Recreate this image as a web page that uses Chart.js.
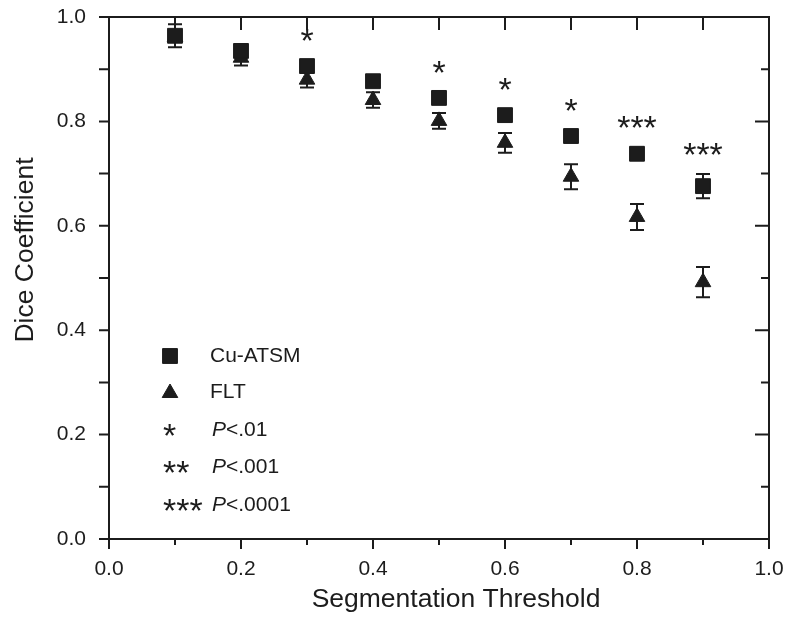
<!DOCTYPE html>
<html><head><meta charset="utf-8">
<script src="https://cdn.jsdelivr.net/npm/chart.js@4/dist/chart.umd.min.js"></script>
<style>html,body{margin:0;padding:0;background:#fff}</style>
</head><body>
<canvas id="c" width="788" height="618" style="width:788px;height:618px;display:block"></canvas>
<script>
// ---- data ----
const thresholds = [0.1, 0.2, 0.3, 0.4, 0.5, 0.6, 0.7, 0.8, 0.9];
const cuAtsm     = [0.964, 0.935, 0.906, 0.877, 0.845, 0.812, 0.772, 0.738, 0.676];
const cuAtsmErr  = [0.022, 0.012, 0.010, 0.010, 0.010, 0.010, 0.010, 0.012, 0.023];
const flt        = [0.962, 0.922, 0.880, 0.841, 0.801, 0.759, 0.694, 0.617, 0.492];
const fltErr     = [0.008, 0.015, 0.015, 0.015, 0.015, 0.019, 0.024, 0.025, 0.029];
const significance = ['', '', '*', '', '*', '*', '*', '***', '***'];
const xTickLabels = ['0.0', '0.2', '0.4', '0.6', '0.8', '1.0'];
const yTickLabels = ['0.0', '0.2', '0.4', '0.6', '0.8', '1.0'];
const minorTickValues = [0, 0.1, 0.2, 0.3, 0.4, 0.5, 0.6, 0.7, 0.8, 0.9, 1.0];
const xTitle = 'Segmentation Threshold';
const yTitle = 'Dice Coefficient';
const legendSeries = ['Cu-ATSM', 'FLT'];
const legendStars = ['*', '**', '***'];
const legendP = ['<.01', '<.001', '<.0001'];

const INK = '#1c1c1c';
const FONT = '"Liberation Sans", Arial, Helvetica, sans-serif';
const STAR_SIZE = 34;

const squareStyle = {pointStyle: 'rect', radius: 10.5, rotation: 0, borderWidth: 1};
const triStyle = {pointStyle: 'triangle', radius: 9, rotation: 0, borderWidth: 1};

function drawErrors(chart, dsIndex, errs) {
  const meta = chart.getDatasetMeta(dsIndex);
  const y = chart.scales.y, ctx = chart.ctx;
  const data = chart.data.datasets[dsIndex].data;
  ctx.save();
  ctx.strokeStyle = INK; ctx.lineWidth = 2;
  meta.data.forEach((pt, i) => {
    const v = data[i].y, e = errs[i];
    const yt = y.getPixelForValue(v + e), yb = y.getPixelForValue(v - e);
    const cx = pt.x, hw = 7;
    ctx.beginPath();
    ctx.moveTo(cx, yt); ctx.lineTo(cx, yb);
    ctx.moveTo(cx - hw, yt); ctx.lineTo(cx + hw, yt);
    ctx.moveTo(cx - hw, yb); ctx.lineTo(cx + hw, yb);
    ctx.stroke();
  });
  ctx.restore();
}

function drawStars(ctx, s, x, yCenter, align) {
  ctx.font = STAR_SIZE + 'px ' + FONT;
  ctx.textAlign = align;
  ctx.textBaseline = 'alphabetic';
  ctx.fillText(s, x, yCenter + STAR_SIZE * 0.57);
}

const decorPlugin = {
  id: 'decor',
  beforeDatasetsDraw(chart) {
    drawErrors(chart, 1, fltErr);
    drawErrors(chart, 0, cuAtsmErr);
  },
  afterDatasetsDraw(chart) {
    const ctx = chart.ctx, xs = chart.scales.x, ys = chart.scales.y;
    ctx.save();
    ctx.fillStyle = INK;
    significance.forEach((s, i) => {
      if (!s) return;
      const px = xs.getPixelForValue(thresholds[i]);
      const py = ys.getPixelForValue(cuAtsm[i] + cuAtsmErr[i]) - 28;
      drawStars(ctx, s, px, py, 'center');
    });
    ctx.restore();
  },
  afterDraw(chart) {
    const ctx = chart.ctx, a = chart.chartArea, xs = chart.scales.x, ys = chart.scales.y;
    ctx.save();
    ctx.strokeStyle = INK; ctx.lineWidth = 2;
    ctx.strokeRect(a.left, a.top, a.right - a.left, a.bottom - a.top);
    ctx.beginPath();
    minorTickValues.forEach((v, i) => {
      const major = i % 2 === 0;
      const px = xs.getPixelForValue(v);
      ctx.moveTo(px, a.bottom); ctx.lineTo(px, a.bottom + (major ? 10 : 6));
      ctx.moveTo(px, a.top); ctx.lineTo(px, a.top + 13);
      const py = ys.getPixelForValue(v);
      ctx.moveTo(a.left, py); ctx.lineTo(a.left - 10, py);
      ctx.moveTo(a.right, py); ctx.lineTo(a.right - (major ? 14 : 8), py);
    });
    ctx.stroke();
    ctx.restore();

    // axis titles
    ctx.save();
    ctx.fillStyle = INK;
    ctx.font = '26.5px ' + FONT;
    ctx.textAlign = 'center';
    ctx.textBaseline = 'middle';
    ctx.fillText(xTitle, a.left + 347, a.bottom + 61);
    ctx.translate(a.left - 83, a.top + 233);
    ctx.rotate(-Math.PI / 2);
    ctx.fillText(yTitle, 0, 0);
    ctx.restore();

    // legend inside plot
    ctx.save();
    ctx.fillStyle = INK; ctx.strokeStyle = INK;
    const lx = a.left + 61, tx = a.left + 101;
    const rowY = [a.top + 339, a.top + 375, a.top + 413, a.top + 450, a.top + 488];
    Chart.helpers.drawPoint(ctx, squareStyle, lx, rowY[0]);
    Chart.helpers.drawPoint(ctx, triStyle, lx, rowY[1] + 1);
    ctx.font = '21px ' + FONT;
    ctx.textBaseline = 'middle';
    ctx.textAlign = 'left';
    ctx.fillText(legendSeries[0], tx, rowY[0]);
    ctx.fillText(legendSeries[1], tx, rowY[1]);
    legendStars.forEach((s, i) => {
      const y = rowY[2 + i];
      drawStars(ctx, s, a.left + 54, y - 2, 'left');
      ctx.textAlign = 'left';
      ctx.font = 'italic 21px ' + FONT;
      const w = ctx.measureText('P').width;
      ctx.textBaseline = 'middle';
      ctx.fillText('P', tx + 2, y);
      ctx.font = '21px ' + FONT;
      ctx.fillText(legendP[i], tx + 2 + w, y);
    });
    ctx.restore();
  }
};

new Chart(document.getElementById('c'), {
  type: 'scatter',
  data: {
    datasets: [
      {label: 'Cu-ATSM', data: thresholds.map((t, i) => ({x: t, y: cuAtsm[i]})),
       pointStyle: 'rect', pointRadius: 10.5, pointHoverRadius: 10.5,
       backgroundColor: INK, borderColor: INK, borderWidth: 1},
      {label: 'FLT', data: thresholds.map((t, i) => ({x: t, y: flt[i]})),
       pointStyle: 'triangle', pointRadius: 9, pointHoverRadius: 9,
       backgroundColor: INK, borderColor: INK, borderWidth: 1}
    ]
  },
  options: {
    responsive: false, animation: false, devicePixelRatio: 1,
    layout: {padding: {left: 0, top: 17, right: 19, bottom: 0}},
    plugins: {legend: {display: false}, tooltip: {enabled: false}},
    scales: {
      x: {
        type: 'linear', min: 0, max: 1,
        afterFit(s) { s.height = 79; s.paddingLeft = 0; s.paddingRight = 0; },
        afterBuildTicks(s) { s.ticks = xTickLabels.map(l => ({value: parseFloat(l)})); },
        ticks: {color: INK, font: {family: FONT, size: 21}, padding: 18,
                callback: (v, i) => xTickLabels[i], maxRotation: 0, autoSkip: false},
        grid: {display: false, drawTicks: false},
        border: {display: false},
        title: {display: false}
      },
      y: {
        type: 'linear', min: 0, max: 1,
        afterFit(s) { s.width = 109; s.paddingTop = 0; s.paddingBottom = 0; },
        afterBuildTicks(s) { s.ticks = yTickLabels.map(l => ({value: parseFloat(l)})); },
        ticks: {color: INK, font: {family: FONT, size: 21}, padding: 23,
                callback: (v, i) => yTickLabels[i], autoSkip: false},
        grid: {display: false, drawTicks: false},
        border: {display: false},
        title: {display: false}
      }
    }
  },
  plugins: [decorPlugin]
});
</script>
</body></html>
